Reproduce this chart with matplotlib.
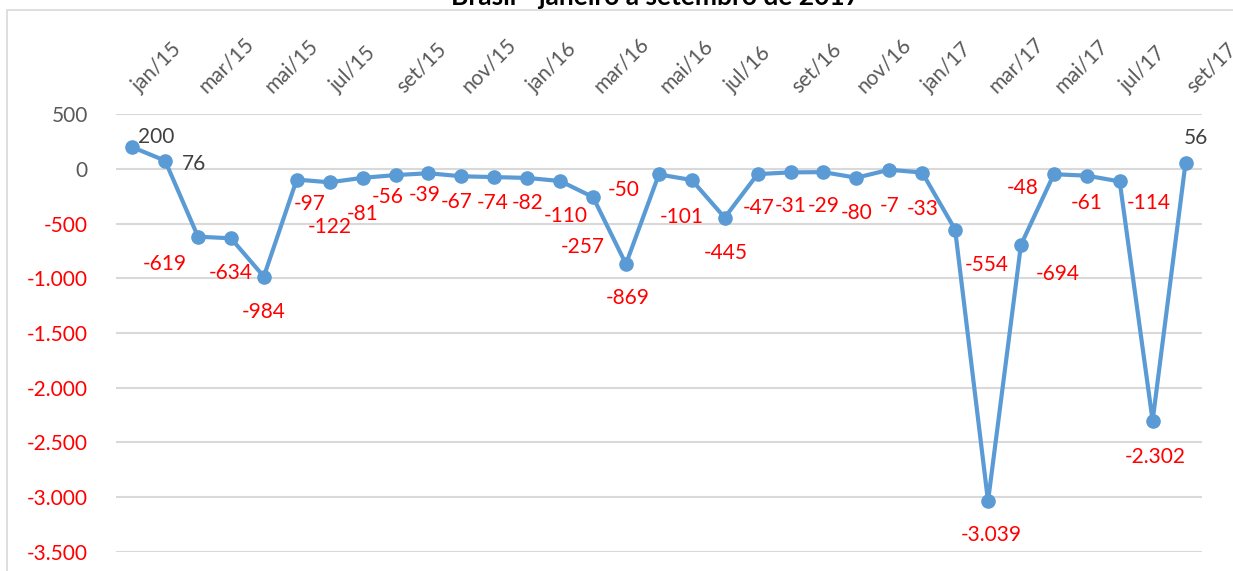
import matplotlib
matplotlib.use("Agg")
import matplotlib.pyplot as plt
import matplotlib.transforms as mtrans
from matplotlib.patches import Rectangle
from matplotlib.ticker import FuncFormatter

plt.rcParams['font.family'] = ['Lato', 'DejaVu Sans']

months = ["jan/15", "fev/15", "mar/15", "abr/15", "mai/15", "jun/15", "jul/15", "ago/15",
          "set/15", "out/15", "nov/15", "dez/15", "jan/16", "fev/16", "mar/16", "abr/16",
          "mai/16", "jun/16", "jul/16", "ago/16", "set/16", "out/16", "nov/16", "dez/16",
          "jan/17", "fev/17", "mar/17", "abr/17", "mai/17", "jun/17", "jul/17", "ago/17",
          "set/17"]
saldo = [200, 76, -619, -634, -984, -97, -122, -81, -56, -39, -67, -74, -82, -110, -257,
         -869, -50, -101, -445, -47, -31, -29, -80, -7, -33, -554, -3039, -694, -48, -61,
         -114, -2302, 56]
yticks = [500, 0, -500, -1000, -1500, -2000, -2500, -3000, -3500]

# label offsets (pixels, dx right / dy down) picked by eye from the original
label_offsets = [(24, -10), (29, 3), (-33, 27), (0, 35), (0, 35), (13, 24), (0, 45), (0, 36),
                 (-8, 22), (-4, 22), (-5, 26), (-2, 26), (0, 25), (6, 35), (-10, 50),
                 (2, 34), (-35, 16), (-10, 37), (1, 35), (1, 34), (0, 34), (0, 34), (0, 35),
                 (0, 36), (0, 36), (32, 35), (3, 34), (37, 29), (-31, 14), (0, 27), (29, 22),
                 (3, 36), (10, -25)]

W, H = 1233, 571
fig = plt.figure(figsize=(W / 100, H / 100), dpi=100)
ax = fig.add_axes([115.7 / W, 1 - 551.7 / H, (1202 - 115.7) / W, (551.7 - 114.3) / H])

blue = "#5B9BD5"
grey = "#595959"
fs = 15
x = list(range(len(saldo)))
ax.plot(x, saldo, color=blue, lw=3, marker="o", ms=9.5, zorder=3)

fmt = lambda v: f"{v:,.0f}".replace(",", ".")
for i, v in enumerate(saldo):
    dx, dy = label_offsets[i]
    ax.annotate(fmt(v), (i, v), xytext=(dx * 0.72, -dy * 0.72), textcoords="offset points",
                ha="center", va="center", fontsize=fs,
                color="#FF0000" if v < 0 else "#404040", zorder=4)

ax.set_xlim(-0.5, len(saldo) - 0.5)
ax.set_ylim(-3500, 500)
ax.set_yticks(yticks)
ax.yaxis.set_major_formatter(FuncFormatter(lambda v, p: fmt(v)))
ax.tick_params(axis="y", length=0, pad=20, labelsize=fs)
for lab, v in zip(ax.get_yticklabels(), yticks):
    lab.set_color("#FF0000" if v < 0 else grey)

ax.xaxis.tick_top()
ax.set_xticks(x[::2])
ax.set_xticklabels(months[::2], rotation=45, ha="left", va="bottom",
                   rotation_mode="anchor", color=grey, fontsize=fs)
ax.tick_params(axis="x", length=0, pad=13)
shift = mtrans.ScaledTranslation(11 / 100, 0, fig.dpi_scale_trans)
for lab in ax.get_xticklabels():
    lab.set_transform(lab.get_transform() + shift)

ax.grid(axis="y", color="#D9D9D9", lw=1.5)
ax.set_axisbelow(True)
for s in ax.spines.values():
    s.set_visible(False)

# outer chart border (only top/left visible in the crop)
fig.patches.append(Rectangle((7 / W, -0.1), 1.2, 1 - 10 / H + 0.1, transform=fig.transFigure,
                             fill=False, edgecolor="#D9D9D9", lw=1.2))
fig.text(655 / W, 1 - 5 / H, "Brasil - janeiro a setembro de 2017", ha="center",
         va="baseline", fontsize=19, fontweight="bold", color="black")

fig.savefig("out.png", dpi=100)
